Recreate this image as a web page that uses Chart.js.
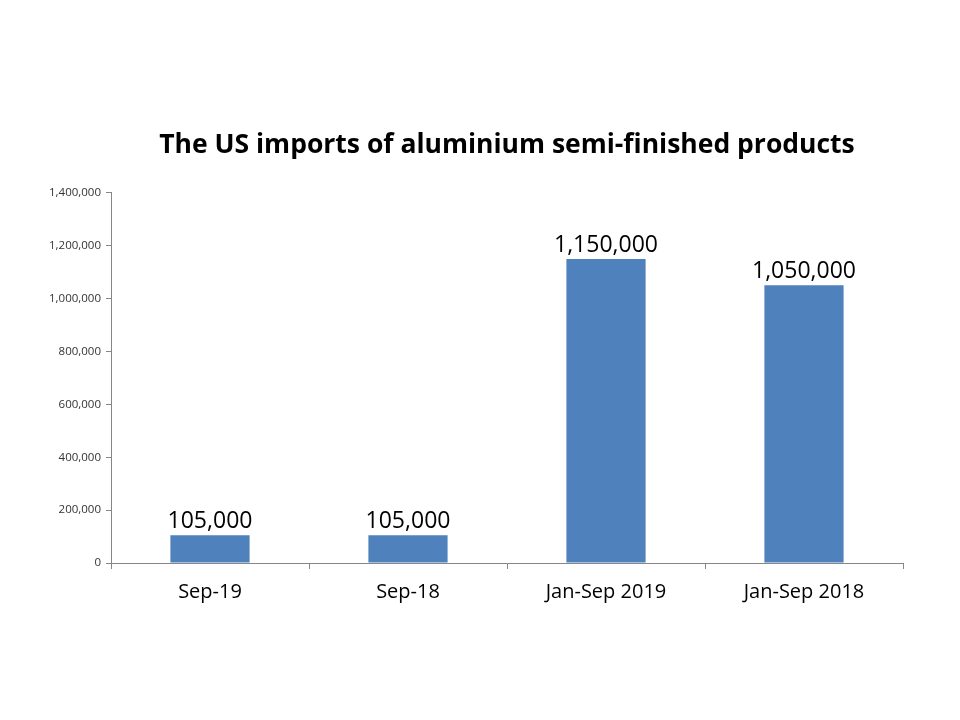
<!DOCTYPE html>
<html>
<head>
<meta charset="utf-8">
<script src="https://cdn.jsdelivr.net/npm/chart.js@4"></script>
<style>
  html, body { margin: 0; padding: 0; background: #fff; }
  #wrap { width: 960px; height: 720px; }
</style>
</head>
<body>
<div id="wrap"><canvas id="importsChart" width="960" height="720"></canvas></div>
<script>
const periods = ['Sep-19', 'Sep-18', 'Jan-Sep 2019', 'Jan-Sep 2018'];
const imports = [105000, 105000, 1150000, 1050000];
const yTicks = [0, 200000, 400000, 600000, 800000, 1000000, 1200000, 1400000];

const fontFamily = '"Open Sans", Lato, sans-serif';

// value labels over each bar
const barLabels = {
    id: 'barLabels',
    afterDatasetsDraw(chart) {
        const ctx = chart.ctx;
        const meta = chart.getDatasetMeta(0);
        ctx.save();
        ctx.font = '23px ' + fontFamily;
        ctx.fillStyle = '#000';
        ctx.textAlign = 'center';
        ctx.textBaseline = 'alphabetic';
        meta.data.forEach((bar, i) => {
            ctx.fillText(imports[i].toLocaleString('en-US'), bar.x, bar.y - 7);
        });
        ctx.restore();
    }
};

new Chart(document.getElementById('importsChart'), {
    type: 'bar',
    data: {
        labels: periods,
        datasets: [{
            data: imports,
            backgroundColor: '#4F81BD',
            categoryPercentage: 0.8,
            barPercentage: 0.5,
        }],
    },
    options: {
        responsive: false,
        animation: false,
        layout: { padding: { left: 10, right: 57, top: 0, bottom: 0 } },
        plugins: {
            legend: { display: false },
            tooltip: { enabled: false },
            title: {
                display: true,
                text: 'The US imports of aluminium semi-finished products',
                fullSize: false,
                color: '#000',
                font: { family: fontFamily, size: 26.5, weight: 'bold', lineHeight: 1.2 },
                padding: { top: 130, bottom: 31 },
            },
        },
        scales: {
            x: {
                grid: { display: true, drawOnChartArea: false, tickLength: 6, color: '#868686', offset: true },
                border: { color: '#868686' },
                ticks: { color: '#000', font: { family: fontFamily, size: 20 }, padding: 11 },
                afterFit: (s) => { s.height = 157; },
            },
            y: {
                min: 0,
                max: 1400000,
                afterBuildTicks: (s) => { s.ticks = yTicks.map((v) => ({ value: v })); },
                grid: { display: true, drawOnChartArea: false, tickLength: 5, color: '#868686' },
                border: { color: '#868686' },
                ticks: {
                    color: '#333',
                    font: { family: fontFamily, size: 11.5 },
                    padding: 5,
                    callback: (v) => v.toLocaleString('en-US'),
                },
                afterFit: (s) => { s.width = 101; },
            },
        },
    },
    plugins: [barLabels],
});
</script>
</body>
</html>
